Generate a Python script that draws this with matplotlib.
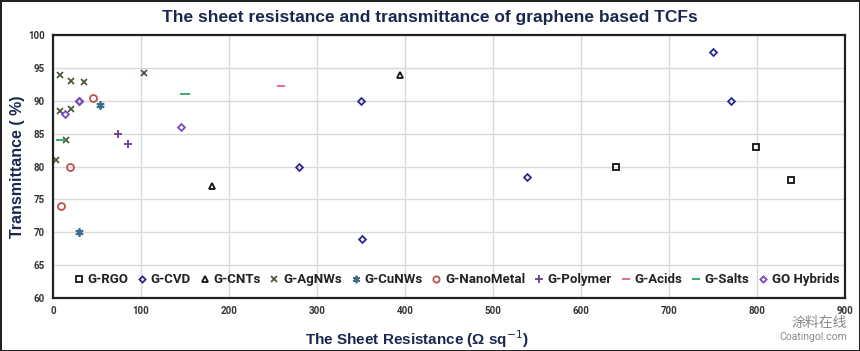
import matplotlib.pyplot as plt

# data (sheet resistance in ohm/sq, transmittance in %)
rgo_x = [640, 799, 839]
rgo_y = [80, 83, 78]
cvd_x = [30, 280, 350, 351, 539, 750, 770]
cvd_y = [90, 80, 90, 69, 78.4, 97.4, 90]
cnt_x = [181, 394]
cnt_y = [77, 94]
ag_x = [4, 8, 8.5, 14.5, 20, 20.5, 35, 103]
ag_y = [81, 88.4, 94, 84, 93, 88.7, 92.8, 94.3]
cu_x = [30, 54]
cu_y = [70, 89.3]
nano_x = [9, 19, 45]
nano_y = [74, 80, 90.5]
poly_x = [74, 85]
poly_y = [85, 83.5]
acid_x = [259]
acid_y = [92.2]
salt_x = [9, 150]
salt_y = [84, 91]
go_x = [14, 30, 146]
go_y = [88, 90, 86]

navy = "#1c2750"
small_font = ["Roboto", "DejaVu Sans"]
head_font = ["Liberation Sans", "DejaVu Sans"]

series = [
    ("G-RGO", rgo_x, rgo_y, "s", "#111111", "none", 4.5),
    ("G-CVD", cvd_x, cvd_y, "D", "#2b2a8c", "none", 3.5),
    ("G-CNTs", cnt_x, cnt_y, "^", "#111111", "none", 4.5),
    ("G-AgNWs", ag_x, ag_y, "x", "#4b5a3a", None, 5),
    ("G-CuNWs", cu_x, cu_y, (6, 2, 0), "#3d6f8c", None, 6),
    ("G-NanoMetal", nano_x, nano_y, "o", "#c0504d", "none", 5),
    ("G-Polymer", poly_x, poly_y, "+", "#6b3f86", None, 6),
    ("G-Acids", acid_x, acid_y, "_", "#e0607e", None, 6),
    ("G-Salts", salt_x, salt_y, "_", "#2fa36b", None, 7),
    ("GO Hybrids", go_x, go_y, "D", "#7a4bc0", "none", 3.5),
]

fig = plt.figure(figsize=(8.6, 3.51), dpi=100)
fig.patch.set_edgecolor("#222222")
fig.patch.set_linewidth(2)
ax = fig.add_axes([0.0616, 0.151, 0.921, 0.749])

for name, xs, ys, mk, col, fc, ms in series:
    kw = dict(marker=mk, color=col, linestyle="none", markersize=ms,
              markeredgewidth=1.3, label=name)
    if fc is not None:
        kw["markerfacecolor"] = fc
    ax.plot(xs, ys, **kw)

ax.set_xlim(0, 900)
ax.set_ylim(60, 100)
ax.set_xticks(range(0, 901, 100))
ax.set_yticks(range(60, 101, 5))
ax.grid(True, color="#d9d9d9", linewidth=1)
ax.set_axisbelow(True)
ax.tick_params(length=0, labelsize=7, colors="#333333", pad=6)
for lbl in ax.get_xticklabels() + ax.get_yticklabels():
    lbl.set_fontweight("bold")
    lbl.set_family(small_font)
for sp in ax.spines.values():
    sp.set_linewidth(1.6)
    sp.set_color("#222222")

ax.set_xlabel("The Sheet Resistance (Ω sq$^{-1}$)", fontsize=11,
              fontweight="bold", color=navy, family=head_font)
ax.xaxis.set_label_coords(0.46, -0.115)
ax.set_ylabel("Transmittance ( %)", fontsize=11.5, fontweight="bold",
              color=navy, labelpad=2, family=head_font)
fig.suptitle("The sheet resistance and transmittance of graphene based TCFs",
             fontsize=12.5, fontweight="bold", color=navy, y=0.972,
             family=head_font)

leg = ax.legend(loc="lower center", ncol=10, frameon=False,
                prop={"family": small_font, "weight": "bold", "size": 9.5},
                handlelength=0.6, handletextpad=0.35, columnspacing=0.75,
                bbox_to_anchor=(0.51, 0.0), markerscale=0.9)
for t in leg.get_texts():
    t.set_color("#222222")

# watermark
fig.text(0.985, 0.068, "涂料在线", fontsize=10, color="#8a8a8a", ha="right",
         family=["Noto Sans CJK SC", "DejaVu Sans"])
fig.text(0.985, 0.03, "Coatingol.com", fontsize=7.5, color="#8a8a8a",
         ha="right", family=small_font)

fig.savefig("out.png", dpi=100)
